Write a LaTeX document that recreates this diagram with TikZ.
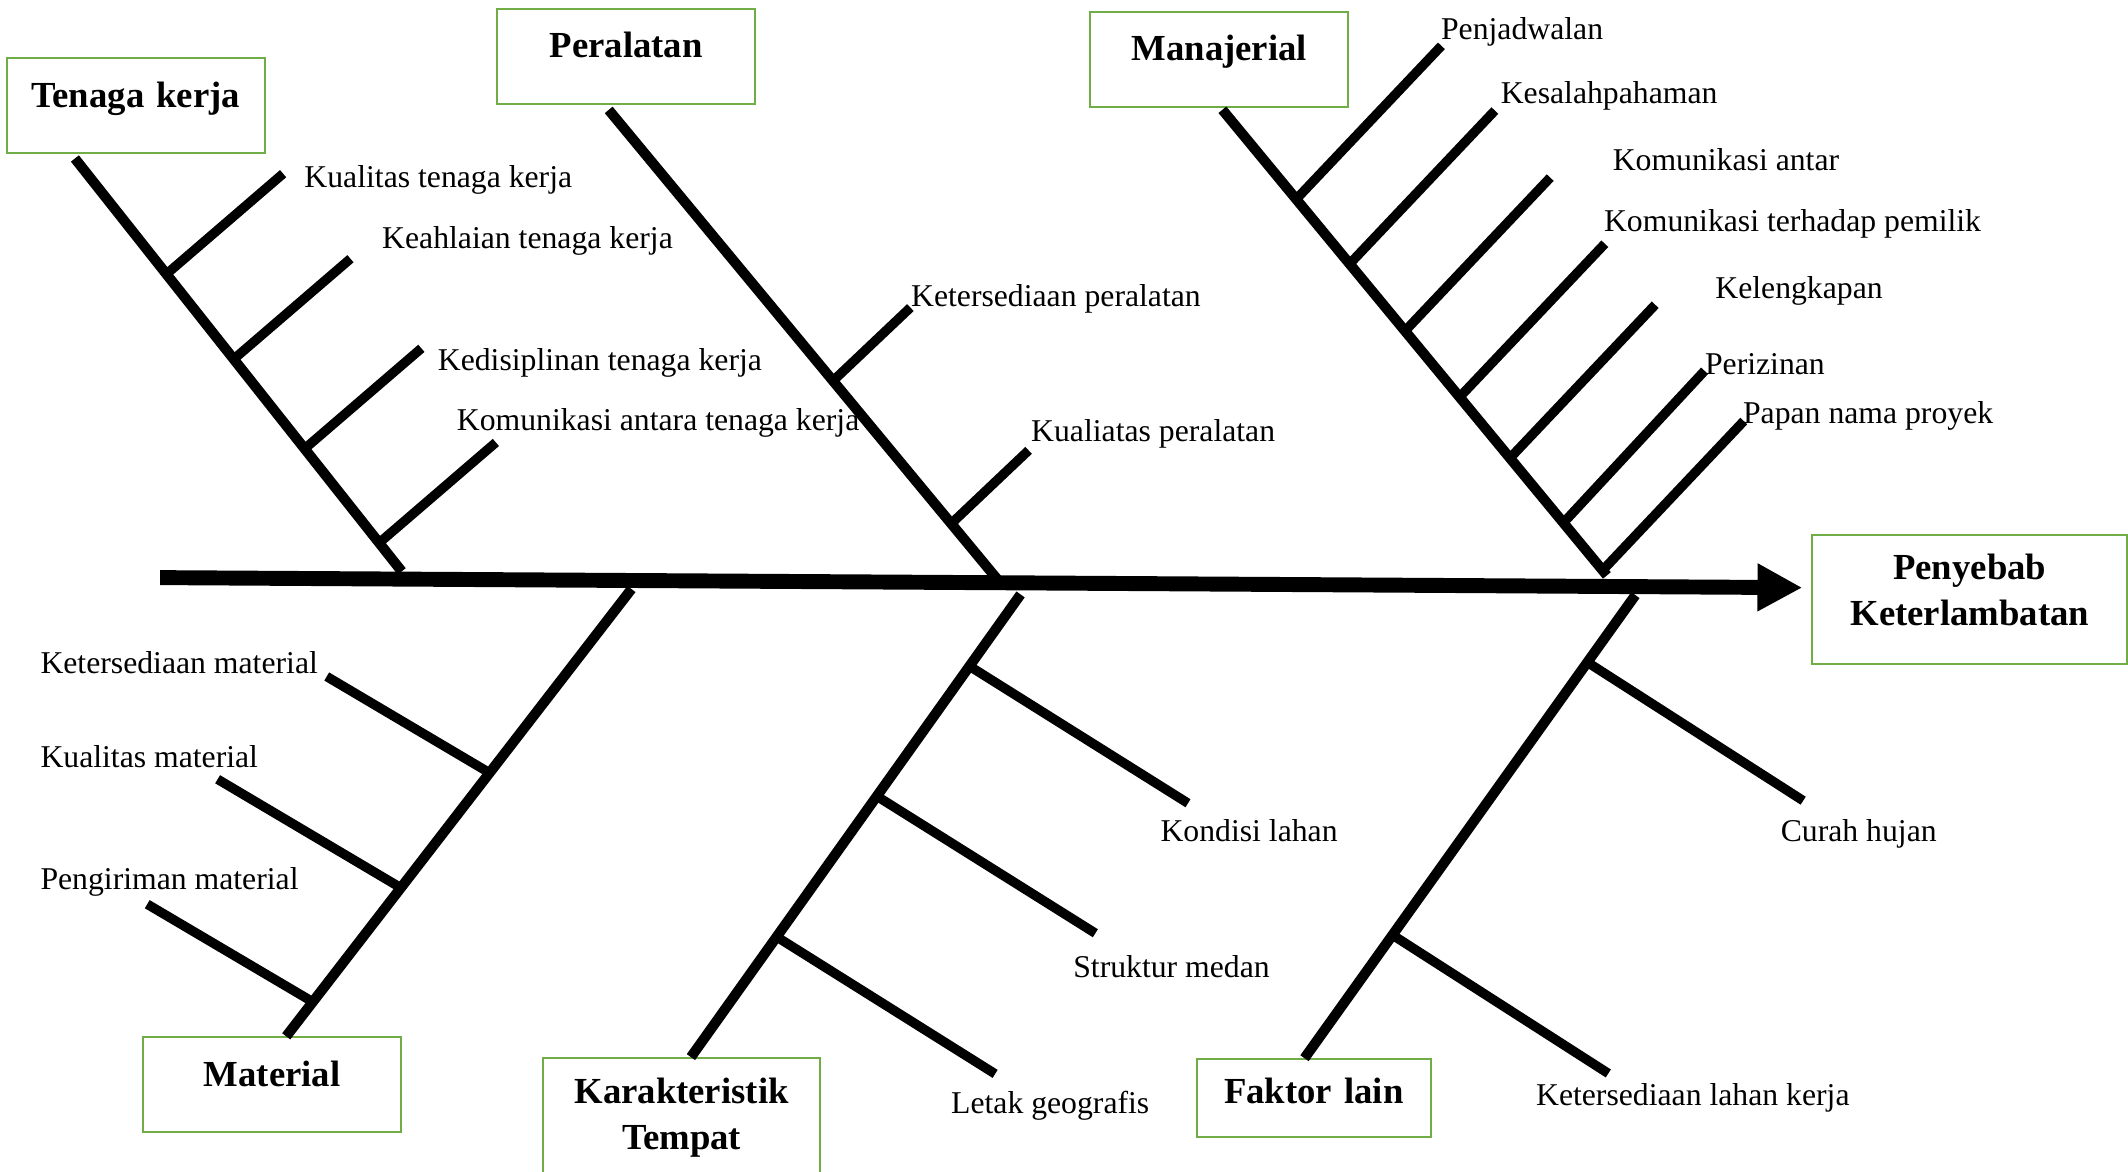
\documentclass[tikz,border=0pt]{standalone}
\usepackage{fontspec}
\setmainfont{Liberation Serif}
\usetikzlibrary{calc,arrows.meta}
\definecolor{hijau}{RGB}{112,173,71}

\begin{document}
\begin{tikzpicture}[
        x=0.02cm,y=-0.02cm
        ,kotak/.style={draw=hijau,line width=0.85pt,inner sep=0pt,anchor=north west,align=center,
            font=\bfseries\fontsize{15.4}{19.2}\selectfont,text height=0.72cm,text depth=0.68cm}
        ,sebab/.style={inner sep=0pt,anchor=base west,font=\fontsize{13.3}{16}\selectfont}
        ,tulang/.style={line width=0.15cm}
        ,duri/.style={line width=0.14cm}
        ,punggung/.style={line width=0.22cm,-{Triangle[length=0.66cm,width=0.66cm]}}
    ]
    \clip (0,0) rectangle (1568,863);
    % Категории
    \node[kotak,text width=3.806cm] (tk) at (4.2,42.3) {Tenaga kerja};
    \node[kotak,text width=3.806cm] (pl) at (365.5,5.8) {Peralatan};
    \node[kotak,text width=3.8cm] (mj) at (802.7,7.9) {Manajerial};
    \node[kotak,text width=3.798cm] (mt) at (104.9,763.6) {Material};
    \node[kotak,text width=4.094cm,text height=0.67cm,text depth=1.4cm] (kt) at (399.1,778.9) {Karakteristik\\Tempat};
    \node[kotak,text width=3.444cm,text height=0.66cm,text depth=0.488cm] (fl) at (881.2,779.7) {Faktor lain};
    \node[kotak,text width=4.642cm,text height=0.66cm,text depth=1.248cm] (efek) at (1334.6,393.4) {Penyebab\\Keterlambatan};
    % Хребет
    \coordinate (ekor) at (118,425.6);
    \coordinate (kepala) at (1328,433);
    \draw[punggung] (ekor) -- (kepala);
    % Кости
    \coordinate (tkA) at ($(tk.south west)+(51,3)$);
    \coordinate (tkB) at (296,421);
    \coordinate (plA) at ($(pl.south west)+(83,3.7)$);
    \coordinate (plB) at (735,427);
    \coordinate (mjA) at ($(mj.south west)+(98,1.5)$);
    \coordinate (mjB) at (1184,424);
    \coordinate (mtA) at (465.3,434);
    \coordinate (mtB) at ($(mt.north west)+(106,0)$);
    \coordinate (ktA) at (752,438);
    \coordinate (ktB) at ($(kt.north west)+(110,0)$);
    \coordinate (flA) at (1205,438.5);
    \coordinate (flB) at ($(fl.north west)+(80,0)$);
    \draw[tulang] (tkA) -- (tkB);
    \draw[tulang] (plA) -- (plB);
    \draw[tulang] (mjA) -- (mjB);
    \draw[tulang] (mtA) -- (mtB);
    \draw[tulang] (ktA) -- (ktB);
    \draw[tulang] (flA) -- (flB);
    % Мелкие кости: Tenaga kerja
    \coordinate (tk1) at ($(tkA)!0.280!(tkB)$);
    \coordinate (tk2) at ($(tkA)!0.486!(tkB)$);
    \coordinate (tk3) at ($(tkA)!0.703!(tkB)$);
    \coordinate (tk4) at ($(tkA)!0.931!(tkB)$);
    \draw[duri] (tk1) -- ++(86,-74);
    \draw[duri] (tk2) -- ++(86,-74);
    \draw[duri] (tk3) -- ++(86,-74);
    \draw[duri] (tk4) -- ++(86,-74);
    % Peralatan
    \coordinate (pl1) at ($(plA)!0.577!(plB)$);
    \coordinate (pl2) at ($(plA)!0.881!(plB)$);
    \draw[duri] (pl1) -- ++(57,-54);
    \draw[duri] (pl2) -- ++(57,-54);
    % Manajerial
    \coordinate (mj1) at ($(mjA)!0.192!(mjB)$);
    \coordinate (mj2) at ($(mjA)!0.331!(mjB)$);
    \coordinate (mj3) at ($(mjA)!0.475!(mjB)$);
    \coordinate (mj4) at ($(mjA)!0.617!(mjB)$);
    \coordinate (mj5) at ($(mjA)!0.748!(mjB)$);
    \coordinate (mj6) at ($(mjA)!0.887!(mjB)$);
    \coordinate (mj7) at ($(mjA)!0.989!(mjB)$);
    \draw[duri] (mj1) -- ++(107,-113);
    \draw[duri] (mj2) -- ++(107,-113);
    \draw[duri] (mj3) -- ++(107,-113);
    \draw[duri] (mj4) -- ++(107,-113);
    \draw[duri] (mj5) -- ++(107,-113);
    \draw[duri] (mj6) -- ++(104,-112);
    \draw[duri] (mj7) -- ++(104,-110);
    % Material
    \coordinate (mt1) at ($(mtA)!0.411!(mtB)$);
    \coordinate (mt2) at ($(mtA)!0.668!(mtB)$);
    \coordinate (mt3) at ($(mtA)!0.923!(mtB)$);
    \draw[duri] (mt1) -- ++(-120,-71);
    \draw[duri] (mt2) -- ++(-135,-80);
    \draw[duri] (mt3) -- ++(-122,-72);
    % Karakteristik Tempat
    \coordinate (kt1) at ($(ktA)!0.155!(ktB)$);
    \coordinate (kt2) at ($(ktA)!0.436!(ktB)$);
    \coordinate (kt3) at ($(ktA)!0.740!(ktB)$);
    \draw[duri] (kt1) -- ++(161,101);
    \draw[duri] (kt2) -- ++(161,101);
    \draw[duri] (kt3) -- ++(161,101);
    % Faktor lain
    \coordinate (fl1) at ($(flA)!0.145!(flB)$);
    \coordinate (fl2) at ($(flA)!0.734!(flB)$);
    \draw[duri] (fl1) -- ++(159,102);
    \draw[duri] (fl2) -- ++(159,102);
    % Подписи
    \node[sebab] (tk1t) at (224,138) {Kualitas tenaga kerja};
    \node[sebab] (tk2t) at (281.3,183.3) {Keahlaian tenaga kerja};
    \node[sebab] (tk3t) at (322.3,273) {Kedisiplinan tenaga kerja};
    \node[sebab] (tk4t) at (336.3,317.3) {Komunikasi antara tenaga kerja};
    \node[sebab] (pl1t) at (671,226) {Ketersediaan peralatan};
    \node[sebab] (pl2t) at (759.5,325.5) {Kualiatas peralatan};
    \node[sebab] (mj1t) at (1061.5,29) {Penjadwalan};
    \node[sebab] (mj2t) at (1105.5,76) {Kesalahpahaman};
    \node[sebab] (mj3t) at (1188,125.5) {Komunikasi antar};
    \node[sebab] (mj4t) at (1181.6,170.6) {Komunikasi terhadap pemilik};
    \node[sebab] (mj5t) at (1263.6,220) {Kelengkapan};
    \node[sebab] (mj6t) at (1256,276) {Perizinan};
    \node[sebab] (mj7t) at (1284,311.7) {Papan nama proyek};
    \node[sebab] (mt1t) at (29.5,496) {Ketersediaan material};
    \node[sebab] (mt2t) at (29.5,565.7) {Kualitas material};
    \node[sebab] (mt3t) at (29.5,655.3) {Pengiriman material};
    \node[sebab] (kt1t) at (854.8,620) {Kondisi lahan};
    \node[sebab] (kt2t) at (790.5,720.5) {Struktur medan};
    \node[sebab] (kt3t) at (700.5,820.5) {Letak geografis};
    \node[sebab] (fl1t) at (1311.8,620) {Curah hujan};
    \node[sebab] (fl2t) at (1131.5,814.8) {Ketersediaan lahan kerja};
\end{tikzpicture}
\end{document}
